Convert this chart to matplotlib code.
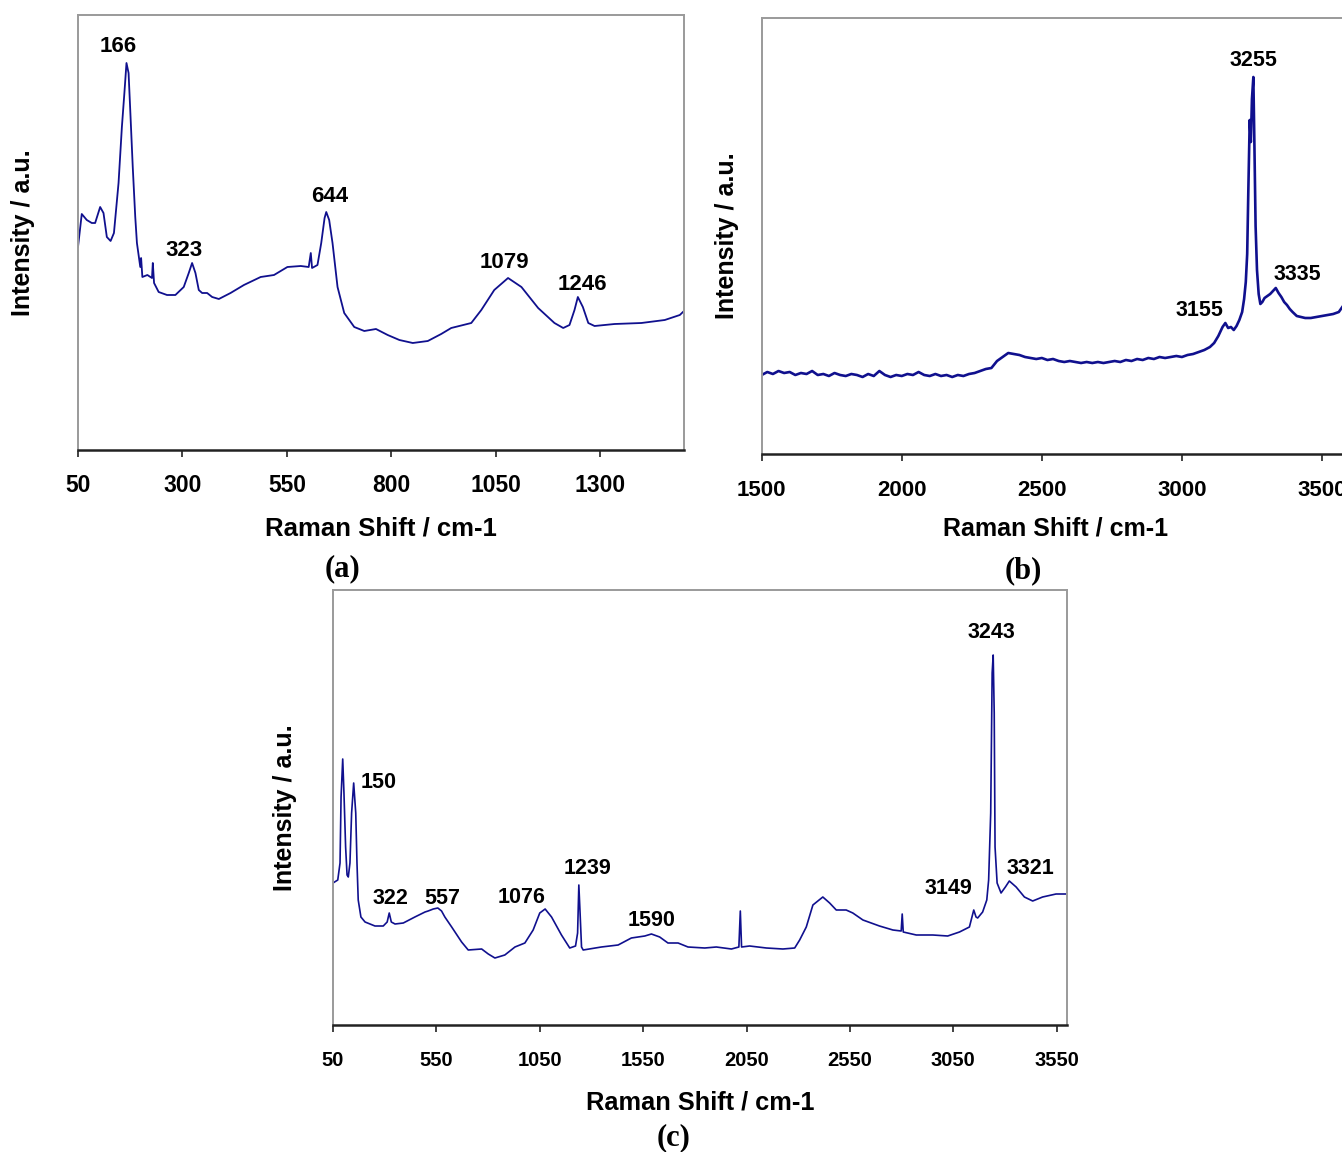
import numpy as np
import matplotlib
matplotlib.use("Agg")
import matplotlib.pyplot as plt

plt.rcParams['font.family'] = ['Liberation Sans', 'DejaVu Sans']
plt.rcParams['font.weight'] = 'bold'
plt.rcParams['axes.labelweight'] = 'bold'

# ---- (a) low wavenumber region ----
a_shift = [50, 59, 71, 83, 91, 103, 111, 119, 128, 136, 147, 155, 161, 166, 171, 175,
           181, 187, 191, 199, 201, 204, 216, 227, 229, 232, 243, 263, 283, 303, 315,
           323, 331, 339, 347, 359, 371, 387, 415, 447, 487, 519, 551, 583, 602, 607,
           610, 623, 632, 640, 644, 651, 659, 671, 687, 711, 735, 763, 791, 819, 851,
           887, 919, 943, 991, 1015, 1046, 1079, 1111, 1151, 1190, 1211, 1226, 1238,
           1246, 1258, 1271, 1286, 1334, 1398, 1454, 1490, 1500]
a_int = [203, 236, 230, 227, 227, 243, 237, 213, 209, 217, 267, 323, 357, 387, 377, 340,
         283, 233, 207, 183, 192, 173, 175, 172, 187, 167, 158, 155, 155, 163, 177,
         187, 177, 160, 157, 157, 153, 151, 157, 165, 173, 175, 183, 184, 183, 197,
         182, 185, 207, 232, 238, 230, 207, 163, 137, 123, 119, 121, 115, 110, 107,
         109, 116, 122, 127, 140, 160, 172, 163, 142, 127, 122, 125, 140,
         153, 143, 127, 124, 126, 127, 130, 135, 139]
a_peaks = [166, 323, 644, 1079, 1246]

# ---- (b) high wavenumber region ----
b_shift = [1500, 1520, 1540, 1560, 1580, 1600, 1620, 1640, 1660, 1680, 1700, 1720, 1740,
           1760, 1780, 1800, 1820, 1840, 1860, 1880, 1900, 1920, 1940, 1960, 1980, 2000,
           2020, 2040, 2060, 2080, 2100, 2120, 2140, 2160, 2180, 2200, 2220, 2240, 2260,
           2280, 2300, 2320, 2340, 2360, 2380, 2400, 2420, 2440, 2460, 2480, 2500, 2520,
           2540, 2560, 2580, 2600, 2620, 2640, 2660, 2680, 2700, 2720, 2740, 2760, 2780,
           2800, 2820, 2840, 2860, 2880, 2900, 2920, 2940, 2960, 2980, 3000, 3020, 3040,
           3060, 3080, 3100, 3115, 3130, 3145, 3155, 3165, 3175, 3185, 3195, 3205, 3215,
           3222, 3228, 3233, 3237, 3242, 3246, 3250, 3255, 3259, 3263, 3268, 3274, 3280,
           3287, 3295, 3305, 3315, 3325, 3335, 3345, 3355, 3365, 3375, 3385, 3395, 3410,
           3425, 3440, 3460, 3480, 3500, 3520, 3540, 3560, 3575, 3590]
b_int = [79, 82, 80, 83, 81, 82, 79, 81, 80, 83, 79, 80, 78,
         81, 79, 78, 80, 79, 77, 80, 78, 83, 79, 77, 79, 78,
         80, 79, 82, 79, 78, 80, 78, 79, 77, 79, 78, 80, 81,
         83, 85, 86, 93, 97, 101, 100, 99, 97, 96, 95, 96, 94,
         95, 93, 92, 93, 92, 91, 92, 91, 92, 91, 92, 93, 92,
         94, 93, 95, 94, 96, 95, 97, 96, 97, 98, 97, 99, 100,
         102, 104, 107, 111, 118, 127, 131, 126, 127, 124, 128, 134, 142,
         155, 172, 200, 262, 334, 312, 355, 377, 305, 228, 184, 160, 150,
         152, 156, 158, 160, 163, 166, 161, 157, 152, 149, 145, 142, 138,
         137, 136, 136, 137, 138, 139, 140, 142, 148, 150]
b_peaks = [3255, 3335, 3155]

# ---- (c) full range ----
c_shift = [50, 73, 84, 89, 97, 103, 111, 118, 124, 132, 140, 150, 160, 166, 172, 185,
           205, 253, 293, 312, 322, 332, 350, 390, 446, 495, 510, 535, 557, 575, 591,
           624, 672, 704, 769, 801, 833, 881, 930, 978, 1018, 1050, 1076, 1107, 1155,
           1195, 1223, 1233, 1239, 1245, 1252, 1260, 1348, 1429, 1493, 1558, 1590,
           1630, 1670, 1719, 1767, 1848, 1904, 1977, 2013, 2020, 2026, 2065, 2146,
           2226, 2283, 2307, 2339, 2371, 2419, 2452, 2484, 2532, 2564, 2613, 2693,
           2758, 2798, 2803, 2808, 2871, 2951, 3023, 3080, 3128, 3149, 3160, 3168,
           3192, 3212, 3221, 3231, 3238, 3243, 3248, 3252, 3262, 3281, 3302, 3321,
           3354, 3394, 3434, 3482, 3547, 3595]
c_int = [142, 145, 162, 228, 266, 232, 178, 150, 148, 162, 212, 242, 212, 162, 125, 108,
         103, 99, 99, 103, 112, 103, 101, 102, 108, 113, 114, 116, 117, 114, 108,
         98, 83, 75, 76, 71, 67, 70, 78, 82, 95, 112, 116, 108, 90,
         77, 79, 92, 140, 112, 78, 75, 78, 80, 87, 89, 91,
         88, 82, 82, 78, 77, 78, 76, 78, 114, 78, 79, 77,
         76, 77, 85, 98, 120, 128, 122, 115, 115, 112, 105, 99,
         95, 94, 111, 93, 90, 90, 89, 93, 98, 115, 108, 107,
         113, 125, 145, 212, 352, 370, 312, 178, 142, 132, 138, 144,
         138, 128, 124, 128, 131, 131]
c_peaks = [150, 322, 557, 1076, 1239, 1590, 3149, 3243, 3321]

W, H = 1342, 1152
LINE = '#10108e'

fig = plt.figure(figsize=(W / 100, H / 100), dpi=100)


def panel(left, top, right, bottom):
    return fig.add_axes([left / W, 1 - bottom / H, (right - left) / W, (bottom - top) / H])


def style(ax, xlim, h, ticks, tsize, tpad):
    ax.set_xlim(*xlim)
    ax.set_ylim(0, h)
    ax.set_yticks([])
    ax.set_xticks(ticks)
    ax.tick_params(axis='x', direction='out', length=5, width=1.2, colors='#222222',
                   labelsize=tsize, pad=tpad, labelcolor='black')
    for s in ('left', 'top', 'right'):
        ax.spines[s].set_color('#9a9a9a')
        ax.spines[s].set_linewidth(1.4)
    ax.spines['bottom'].set_color('#222222')
    ax.spines['bottom'].set_linewidth(1.8)


def label_peaks(ax, xs, ys, peaks, offsets, size):
    for p, (dx, dy) in zip(peaks, offsets):
        ax.annotate(str(p), xy=(p, np.interp(p, xs, ys)), xytext=(dx, dy),
                    textcoords='offset pixels', ha='center', va='center',
                    fontsize=size, fontweight='bold')


# (a)
ax_a = panel(78, 15, 684, 450)
ax_a.plot(a_shift, a_int, color=LINE, lw=1.3)
style(ax_a, (50, 1500), 435, [50, 300, 550, 800, 1050, 1300], 16.5, 12)
label_peaks(ax_a, a_shift, a_int, a_peaks,
            [(-8, 16), (-8, 12), (3, 15), (-4, 16), (5, 12)], 16)
ax_a.set_xlabel('Raman Shift / cm-1', fontsize=18.5, va='center')
ax_a.xaxis.set_label_coords(0.5, -0.1816)
ax_a.set_ylabel('Intensity / a.u.', fontsize=18, va='center')
ax_a.yaxis.set_label_coords(-55 / 606, 0.5)

# (b) - right edge runs past the figure border
ax_b = panel(761.7, 18.3, 1350, 454)
ax_b.plot(b_shift, b_int, color=LINE, lw=1.9)
style(ax_b, (1500, 3600), 435.7, [1500, 2000, 2500, 3000, 3500], 16, 13.5)
label_peaks(ax_b, b_shift, b_int, b_peaks,
            [(0, 16.5), (21.5, 13.5), (-26, 12.5)], 15.5)
ax_b.set_xlabel('Raman Shift / cm-1', fontsize=18, va='center')
ax_b.xaxis.set_label_coords(0.5, -0.171)
ax_b.set_ylabel('Intensity / a.u.', fontsize=18, va='center')
ax_b.yaxis.set_label_coords(-34.7 / 588.3, 0.5)

# (c)
ax_c = panel(333, 590, 1067, 1025)
ax_c.plot(c_shift, c_int, color=LINE, lw=1.2)
style(ax_c, (50, 3600), 435, [50, 550, 1050, 1550, 2050, 2550, 3050, 3550], 14.5, 14)
label_peaks(ax_c, c_shift, c_int, c_peaks,
            [(25, 0), (1.5, 14.5), (4.5, 10), (-24, 11.5), (8.5, 17), (0, 14),
             (-25, 22), (-2, 22), (21, 13)], 15.5)
ax_c.set_xlabel('Raman Shift / cm-1', fontsize=18.3, va='center')
ax_c.xaxis.set_label_coords(0.5, -0.178)
ax_c.set_ylabel('Intensity / a.u.', fontsize=18, va='center')
ax_c.yaxis.set_label_coords(-48 / 734, 0.5)

# panel letters
for txt, x, y in [('(a)', 342, 569), ('(b)', 1023, 571), ('(c)', 674, 1138)]:
    fig.text(x / W, 1 - y / H, txt, ha='center', va='center',
             family='Liberation Serif', fontweight='bold', fontsize=22)

fig.savefig('out.png', dpi=100)
